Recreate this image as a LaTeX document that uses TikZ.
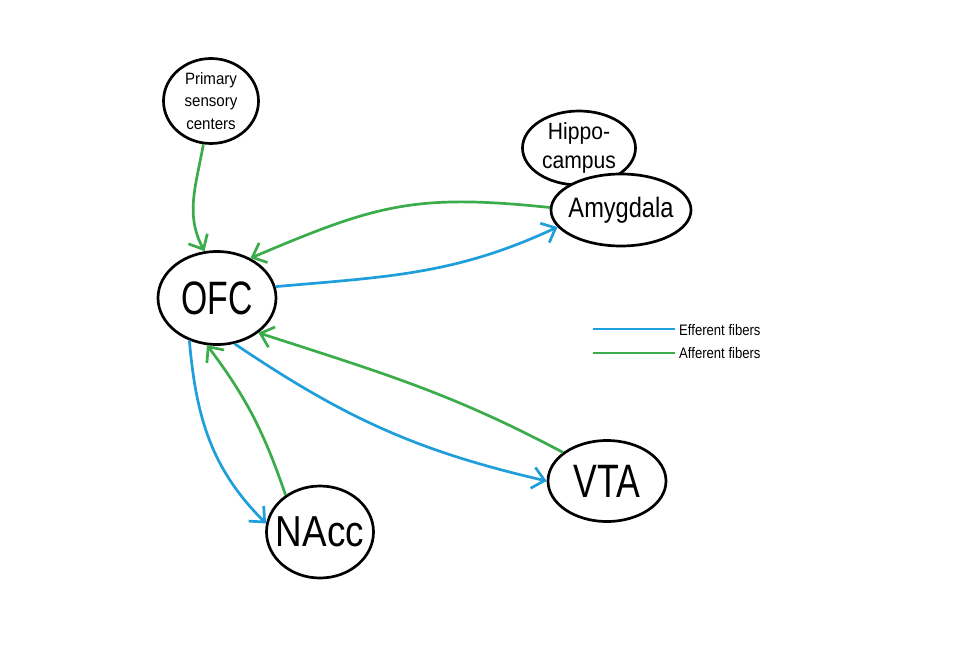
\documentclass[tikz,border=0pt]{standalone}
\usepackage{fontspec}
\setmainfont{Liberation Sans}
\newfontfamily\fnOFC[FakeStretch=0.72]{Liberation Sans}
\newfontfamily\fnVTA[FakeStretch=0.76]{Liberation Sans}
\newfontfamily\fnNAcc[FakeStretch=0.85]{Liberation Sans}
\newfontfamily\fnMid[FakeStretch=0.84]{Liberation Sans}
\newfontfamily\fnHip[FakeStretch=0.9]{Liberation Sans}
\newfontfamily\fnSmall[FakeStretch=0.92]{Liberation Sans}
\newfontfamily\fnLeg[FakeStretch=0.86]{Liberation Sans}
\usetikzlibrary{shapes.geometric,arrows.meta}
\definecolor{effblue}{RGB}{30,158,218}
\definecolor{affgreen}{RGB}{58,172,74}
\begin{document}
\begin{tikzpicture}[x=0.03cm,y=0.03cm,
  region/.style={ellipse,draw=black,line width=2.3pt,fill=white,inner sep=0pt,align=center},
  barb/.style={-{Straight Barb[length=3.6mm,width=6.4mm]}},
  eff/.style={draw=effblue,line width=2.3pt,barb},
  aff/.style={draw=affgreen,line width=2.3pt,barb},
  legline/.style={line width=2.3pt},
  legtext/.style={anchor=west,inner sep=0pt,font=\fontsize{13}{15}\fnLeg}]
\useasboundingbox (0,0) rectangle (961,659);
\fill[white] (0,0) rectangle (961,659);

\node[region,minimum width=2.85cm,minimum height=2.55cm,
      font=\fontsize{14}{19}\fnSmall] (prim) at (211,558) {Primary\\sensory\\centers};
\node[region,minimum width=3.39cm,minimum height=2.22cm,
      font=\fontsize{20}{24}\fnHip] (hip) at (579,511) {Hippo-\\campus};
\node[region,minimum width=4.2cm,minimum height=2.16cm,
      font=\fontsize{24}{28}\fnMid] (amy) at (621,449) {\makebox[0pt]{Amygdala}};
\node[region,minimum width=3.54cm,minimum height=2.79cm,
      font=\fontsize{40}{44}\fnOFC] (ofc) at (217,361) {\makebox[0pt]{OFC}};
\node[region,minimum width=3.54cm,minimum height=2.43cm,
      font=\fontsize{40}{44}\fnVTA] (vta) at (607,178) {\makebox[0pt]{VTA}};
\node[region,minimum width=3.21cm,minimum height=2.76cm,
      font=\fontsize{37}{40}\fnNAcc] (nacc) at (320,127) {\makebox[0pt]{NAcc}};

\draw[aff] (prim.-100) to[out=-100,in=118] (ofc.105);
\draw[aff] (amy.178) to[out=174,in=23,looseness=1.15] (ofc.50);
\draw[eff] (ofc.11) to[out=5,in=205] (amy.195);
\draw[aff] (vta.147) to[out=152,in=-18] (ofc.-40);
\draw[eff] (ofc.-69) to[out=-34,in=167] (vta.180);
\draw[eff] (ofc.-123) to[out=-85,in=135] (nacc.171);
\draw[aff] (nacc.133) to[out=109,in=-53] (ofc.-102);

\coordinate (effA) at (593,330);
\coordinate (effB) at (675,330);
\coordinate (affA) at (593,306);
\coordinate (affB) at (675,306);
\draw[legline,effblue] (effA) -- (effB);
\draw[legline,affgreen] (affA) -- (affB);
\node[legtext] (efftxt) at (679,329) {Efferent fibers};
\node[legtext] (afftxt) at (679,306) {Afferent fibers};
\end{tikzpicture}
\end{document}
